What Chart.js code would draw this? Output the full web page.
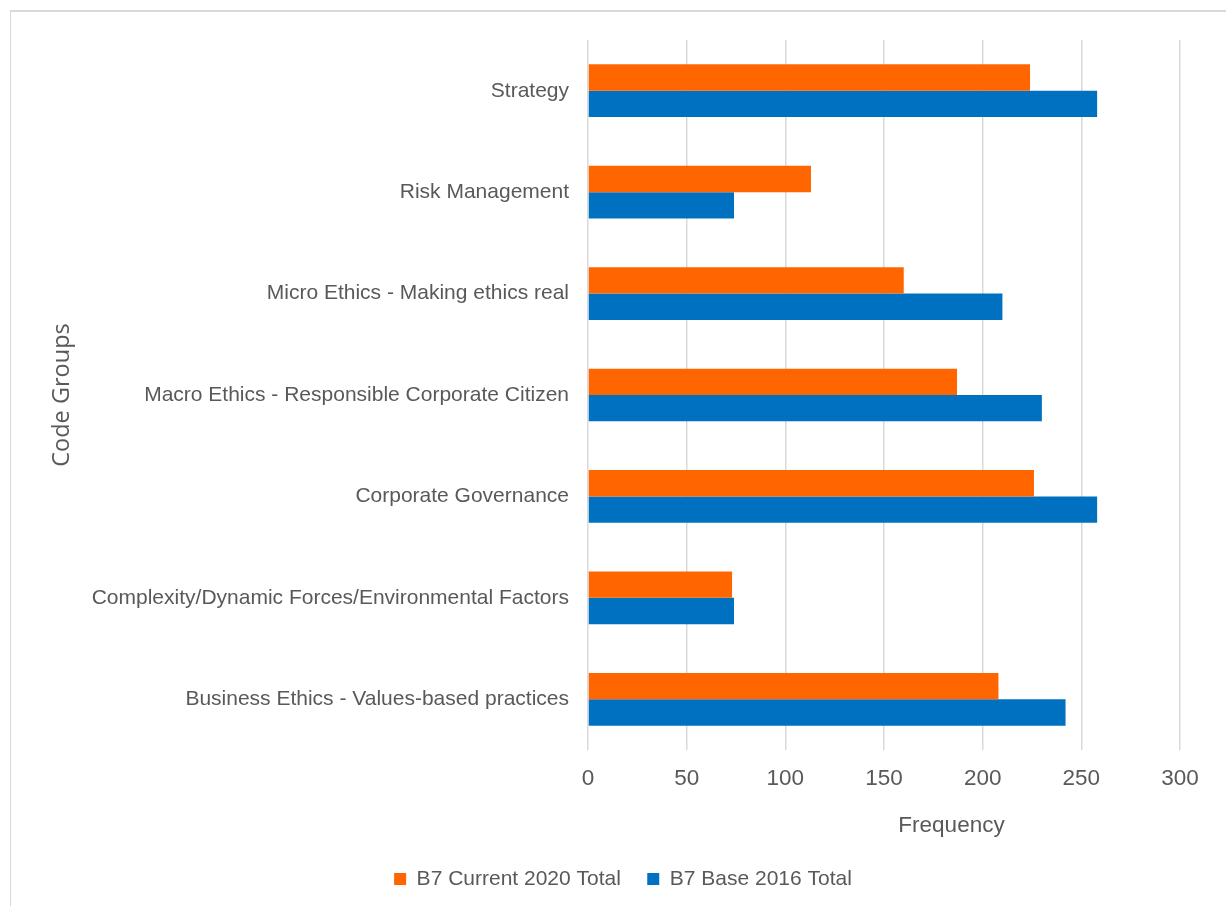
<!DOCTYPE html>
<html>
<head>
<meta charset="utf-8">
<title>Code Groups – Frequency</title>
<script src="https://cdn.jsdelivr.net/npm/chart.js@4/dist/chart.umd.min.js"></script>
<style>
  html, body { margin: 0; padding: 0; background: #ffffff; }
  #wrap { position: relative; width: 1226px; height: 906px; overflow: hidden; }
  #frame {
    position: absolute; left: 10px; top: 10px; right: -4px; bottom: -4px;
    border-top: 2px solid #d9d9d9; border-left: 1px solid #d9d9d9;
    pointer-events: none;
  }
  canvas { position: absolute; left: 0; top: 0; }
</style>
</head>
<body>
<div id="wrap">
  <canvas id="chart" width="1226" height="906"></canvas>
  <div id="frame"></div>
</div>
<script>
// Code groups, listed top to bottom
const categories = [
  'Strategy',
  'Risk Management',
  'Micro Ethics - Making ethics real',
  'Macro Ethics - Responsible Corporate Citizen',
  'Corporate Governance',
  'Complexity/Dynamic Forces/Environmental Factors',
  'Business Ethics - Values-based practices'
];

// Frequency per code group
const current2020 = [224, 113, 160, 187, 226, 73, 208];
const base2016    = [258, 74, 210, 230, 258, 74, 242];

const seriesNames = ['B7 Current 2020 Total', 'B7 Base 2016 Total'];

// Frequency axis
const xMin = 0;
const xMax = 300;
const xStep = 50;

const textColor = '#595959';
const gridColor = '#d9d9d9';
const sans = "'Liberation Sans', Arial, sans-serif";

new Chart(document.getElementById('chart'), {
  type: 'bar',
  data: {
    labels: categories,
    datasets: [
      { label: seriesNames[0], data: current2020, backgroundColor: '#FF6600', borderWidth: 0 },
      { label: seriesNames[1], data: base2016,    backgroundColor: '#0070C0', borderWidth: 0 }
    ]
  },
  options: {
    indexAxis: 'y',
    responsive: false,
    animation: false,
    devicePixelRatio: 1,
    categoryPercentage: 0.52,
    barPercentage: 1.0,
    layout: { padding: { top: 40, right: 46, bottom: 6.5, left: 66 } },
    scales: {
      x: {
        min: xMin,
        max: xMax,
        ticks: {
          stepSize: xStep,
          padding: 15.5,
          color: textColor,
          font: { family: sans, size: 22.5 }
        },
        grid: { color: gridColor, lineWidth: 1.5, drawTicks: false },
        border: { display: false },
        title: {
          display: true,
          // the title sits right of the plot centre; em spaces push it over
          text: '\u2003'.repeat(6) + 'Frequency',
          color: textColor,
          font: { family: sans, size: 22.5 },
          padding: { top: 0, bottom: 19.5 }
        },
        afterFit(scale) { scale.height = 108.5; }
      },
      y: {
        ticks: {
          padding: 19,
          color: textColor,
          font: { family: sans, size: 21 }
        },
        grid: { display: false, drawTicks: false },
        border: { display: false },
        title: {
          display: true,
          text: 'Code Groups',
          color: textColor,
          font: { family: "'Open Sans', 'Noto Sans', sans-serif", size: 23.5 },
          padding: { top: -18, bottom: 0 }
        },
        afterFit(scale) { scale.width = 588 - 66; }
      }
    },
    plugins: {
      tooltip: { enabled: false },
      legend: {
        position: 'bottom',
        labels: {
          color: textColor,
          font: { family: sans, size: 21 },
          boxWidth: 12,
          boxHeight: 12,
          padding: 10,
          generateLabels(chart) {
            const items = Chart.defaults.plugins.legend.labels.generateLabels(chart);
            items.forEach((item, i) => {
              item.lineWidth = 0;
              if (i < items.length - 1) item.text += '\u2002 ';
            });
            return items;
          }
        }
      }
    }
  }
});
</script>
</body>
</html>
